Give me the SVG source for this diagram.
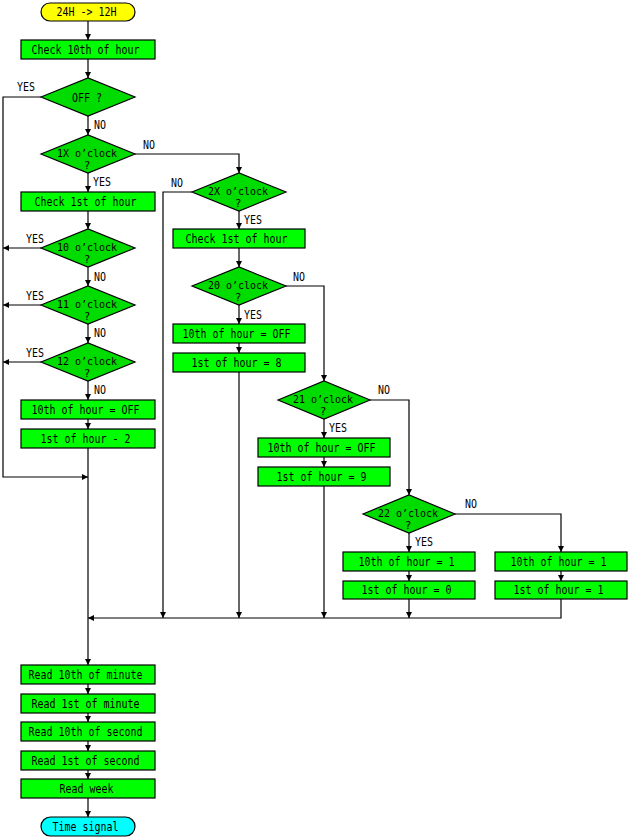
<svg xmlns="http://www.w3.org/2000/svg" width="629" height="838" viewBox="0 0 629 838">
<defs>
<marker id="ah" markerUnits="userSpaceOnUse" markerWidth="6" markerHeight="6" refX="6" refY="3" orient="auto">
<path d="M0,0 L6,3 L0,6 z" fill="#000"/>
</marker>
<style>
.bx{fill:#00FF00;stroke:#000;stroke-width:1.2}
.dm{fill:#00DC00;stroke:#000;stroke-width:1.2}
.ty{fill:#FFFF00;stroke:#000;stroke-width:1.2}
.tc{fill:#00FFFF;stroke:#000;stroke-width:1.2}
.ln{fill:none;stroke:#000;stroke-width:1.2}
.ar{fill:none;stroke:#000;stroke-width:1.2;marker-end:url(#ah)}
text{font-family:"DejaVu Sans Mono","Liberation Mono",monospace;font-size:12px;fill:#000}
.c{text-anchor:middle}
.d{font-size:11px}
</style>
</defs>
<rect width="629" height="838" fill="#fff"/>

<g id="connectors">
<path class="ar" d="M88,21 V40"/>
<path class="ar" d="M88,59 V78"/>
<path class="ar" d="M88,116 V135"/>
<path class="ar" d="M88,173 V192"/>
<path class="ar" d="M88,211 V229"/>
<path class="ar" d="M88,267 V286"/>
<path class="ar" d="M88,324 V343"/>
<path class="ar" d="M88,381 V400"/>
<path class="ar" d="M88,419 V429"/>
<path class="ar" d="M88,448 V665"/>
<path class="ar" d="M41,97 H3 V477 H88"/>
<path class="ar" d="M41,248 H3"/>
<path class="ar" d="M41,305 H3"/>
<path class="ar" d="M41,362 H3"/>
<path class="ar" d="M135,154 H239 V173"/>
<path class="ar" d="M192,192 H163 V618"/>
<path class="ar" d="M239,211 V229"/>
<path class="ar" d="M239,248 V267"/>
<path class="ar" d="M286,286 H324 V381"/>
<path class="ar" d="M239,305 V324"/>
<path class="ar" d="M239,343 V353"/>
<path class="ar" d="M239,372 V618"/>
<path class="ar" d="M370,400 H409 V495"/>
<path class="ar" d="M324,419 V438"/>
<path class="ar" d="M324,457 V467"/>
<path class="ar" d="M324,486 V618"/>
<path class="ar" d="M455,514 H561 V552"/>
<path class="ar" d="M409,533 V552"/>
<path class="ar" d="M409,571 V581"/>
<path class="ar" d="M409,599 V618"/>
<path class="ar" d="M561,571 V581"/>
<path class="ar" d="M561,599 V618 H88"/>
<path class="ar" d="M88,684 V694"/>
<path class="ar" d="M88,713 V722"/>
<path class="ar" d="M88,741 V751"/>
<path class="ar" d="M88,770 V779"/>
<path class="ar" d="M88,798 V817"/>
<text x="17" y="91" textLength="18" lengthAdjust="spacingAndGlyphs">YES</text>
<text x="94" y="129" textLength="12" lengthAdjust="spacingAndGlyphs">NO</text>
<text x="143" y="148.5" textLength="12" lengthAdjust="spacingAndGlyphs">NO</text>
<text x="93" y="186" textLength="18" lengthAdjust="spacingAndGlyphs">YES</text>
<text x="171" y="186.5" textLength="12" lengthAdjust="spacingAndGlyphs">NO</text>
<text x="244" y="224" textLength="18" lengthAdjust="spacingAndGlyphs">YES</text>
<text x="26" y="242.5" textLength="18" lengthAdjust="spacingAndGlyphs">YES</text>
<text x="94" y="281" textLength="12" lengthAdjust="spacingAndGlyphs">NO</text>
<text x="26" y="300" textLength="18" lengthAdjust="spacingAndGlyphs">YES</text>
<text x="94" y="337" textLength="12" lengthAdjust="spacingAndGlyphs">NO</text>
<text x="26" y="356.5" textLength="18" lengthAdjust="spacingAndGlyphs">YES</text>
<text x="94" y="394" textLength="12" lengthAdjust="spacingAndGlyphs">NO</text>
<text x="293" y="281" textLength="12" lengthAdjust="spacingAndGlyphs">NO</text>
<text x="244" y="318.5" textLength="18" lengthAdjust="spacingAndGlyphs">YES</text>
<text x="378" y="393.5" textLength="12" lengthAdjust="spacingAndGlyphs">NO</text>
<text x="329" y="431.5" textLength="18" lengthAdjust="spacingAndGlyphs">YES</text>
<text x="465" y="508" textLength="12" lengthAdjust="spacingAndGlyphs">NO</text>
<text x="415" y="546" textLength="18" lengthAdjust="spacingAndGlyphs">YES</text>
</g>

<g id="start">
<rect class="ty" x="41" y="3" width="94" height="18" rx="9"/>
<text class="c" x="86.5" y="16" textLength="60" lengthAdjust="spacingAndGlyphs">24H -&gt; 12H</text>
</g>
<g id="check10th">
<rect class="bx" x="21" y="40" width="134" height="19"/>
<text class="c" x="85.5" y="53.5" textLength="108" lengthAdjust="spacingAndGlyphs">Check 10th of hour</text>
</g>
<g id="offq">
<polygon class="dm" points="41,97 88,78 135,97 88,116"/>
<text class="c" x="87" y="101.5" textLength="30" lengthAdjust="spacingAndGlyphs">OFF ?</text>
</g>
<g id="q1x">
<polygon class="dm" points="41,154 88,135 135,154 88,173"/>
<text class="c d" x="87" y="156.5" textLength="60" lengthAdjust="spacingAndGlyphs">1X o’clock</text>
<text class="c d" x="87" y="168.5">?</text>
</g>
<g id="check1st">
<rect class="bx" x="21" y="192" width="134" height="19"/>
<text class="c" x="85.5" y="205.5" textLength="102" lengthAdjust="spacingAndGlyphs">Check 1st of hour</text>
</g>
<g id="q10">
<polygon class="dm" points="41,248 88,229 135,248 88,267"/>
<text class="c d" x="87" y="250.5" textLength="60" lengthAdjust="spacingAndGlyphs">10 o’clock</text>
<text class="c d" x="87" y="262.5">?</text>
</g>
<g id="q11">
<polygon class="dm" points="41,305 88,286 135,305 88,324"/>
<text class="c d" x="87" y="307.5" textLength="60" lengthAdjust="spacingAndGlyphs">11 o’clock</text>
<text class="c d" x="87" y="319.5">?</text>
</g>
<g id="q12">
<polygon class="dm" points="41,362 88,343 135,362 88,381"/>
<text class="c d" x="87" y="364.5" textLength="60" lengthAdjust="spacingAndGlyphs">12 o’clock</text>
<text class="c d" x="87" y="376.5">?</text>
</g>
<g id="l10off">
<rect class="bx" x="21" y="400" width="134" height="19"/>
<text class="c" x="85.5" y="413.5" textLength="108" lengthAdjust="spacingAndGlyphs">10th of hour = OFF</text>
</g>
<g id="l1minus2">
<rect class="bx" x="21" y="429" width="134" height="19"/>
<text class="c" x="85.5" y="442.5" textLength="90" lengthAdjust="spacingAndGlyphs">1st of hour - 2</text>
</g>
<g id="q2x">
<polygon class="dm" points="192,192 239,173 286,192 239,211"/>
<text class="c d" x="238" y="194.5" textLength="60" lengthAdjust="spacingAndGlyphs">2X o’clock</text>
<text class="c d" x="238" y="206.5">?</text>
</g>
<g id="check1st2">
<rect class="bx" x="173" y="229" width="132" height="19"/>
<text class="c" x="236.5" y="242.5" textLength="102" lengthAdjust="spacingAndGlyphs">Check 1st of hour</text>
</g>
<g id="q20">
<polygon class="dm" points="192,286 239,267 286,286 239,305"/>
<text class="c d" x="238" y="288.5" textLength="60" lengthAdjust="spacingAndGlyphs">20 o’clock</text>
<text class="c d" x="238" y="300.5">?</text>
</g>
<g id="m10off">
<rect class="bx" x="173" y="324" width="132" height="19"/>
<text class="c" x="236.5" y="337.5" textLength="108" lengthAdjust="spacingAndGlyphs">10th of hour = OFF</text>
</g>
<g id="m1eq8">
<rect class="bx" x="173" y="353" width="132" height="19"/>
<text class="c" x="236.5" y="366.5" textLength="90" lengthAdjust="spacingAndGlyphs">1st of hour = 8</text>
</g>
<g id="q21">
<polygon class="dm" points="278,400 324,381 370,400 324,419"/>
<text class="c d" x="323" y="402.5" textLength="60" lengthAdjust="spacingAndGlyphs">21 o’clock</text>
<text class="c d" x="323" y="414.5">?</text>
</g>
<g id="n10off">
<rect class="bx" x="258" y="438" width="132" height="19"/>
<text class="c" x="321.5" y="451.5" textLength="108" lengthAdjust="spacingAndGlyphs">10th of hour = OFF</text>
</g>
<g id="n1eq9">
<rect class="bx" x="258" y="467" width="132" height="19"/>
<text class="c" x="321.5" y="480.5" textLength="90" lengthAdjust="spacingAndGlyphs">1st of hour = 9</text>
</g>
<g id="q22">
<polygon class="dm" points="363,514 409,495 455,514 409,533"/>
<text class="c d" x="408" y="516.5" textLength="60" lengthAdjust="spacingAndGlyphs">22 o’clock</text>
<text class="c d" x="408" y="528.5">?</text>
</g>
<g id="p10eq1">
<rect class="bx" x="343" y="552" width="132" height="19"/>
<text class="c" x="406.5" y="565.5" textLength="96" lengthAdjust="spacingAndGlyphs">10th of hour = 1</text>
</g>
<g id="p1eq0">
<rect class="bx" x="343" y="581" width="132" height="18"/>
<text class="c" x="406.5" y="594" textLength="90" lengthAdjust="spacingAndGlyphs">1st of hour = 0</text>
</g>
<g id="r10eq1">
<rect class="bx" x="495" y="552" width="132" height="19"/>
<text class="c" x="558.5" y="565.5" textLength="96" lengthAdjust="spacingAndGlyphs">10th of hour = 1</text>
</g>
<g id="r1eq1">
<rect class="bx" x="495" y="581" width="132" height="18"/>
<text class="c" x="558.5" y="594" textLength="90" lengthAdjust="spacingAndGlyphs">1st of hour = 1</text>
</g>
<g id="read10min">
<rect class="bx" x="21" y="665" width="134" height="19"/>
<text class="c" x="85.5" y="678.5" textLength="114" lengthAdjust="spacingAndGlyphs">Read 10th of minute</text>
</g>
<g id="read1min">
<rect class="bx" x="21" y="694" width="134" height="19"/>
<text class="c" x="85.5" y="707.5" textLength="108" lengthAdjust="spacingAndGlyphs">Read 1st of minute</text>
</g>
<g id="read10sec">
<rect class="bx" x="21" y="722" width="134" height="19"/>
<text class="c" x="85.5" y="735.5" textLength="114" lengthAdjust="spacingAndGlyphs">Read 10th of second</text>
</g>
<g id="read1sec">
<rect class="bx" x="21" y="751" width="134" height="19"/>
<text class="c" x="85.5" y="764.5" textLength="108" lengthAdjust="spacingAndGlyphs">Read 1st of second</text>
</g>
<g id="readweek">
<rect class="bx" x="21" y="779" width="134" height="19"/>
<text class="c" x="86.5" y="792.5" textLength="54" lengthAdjust="spacingAndGlyphs">Read week</text>
</g>
<g id="end">
<rect class="tc" x="41" y="817" width="94" height="19" rx="9.5"/>
<text class="c" x="85.5" y="830.5" textLength="66" lengthAdjust="spacingAndGlyphs">Time signal</text>
</g>
</svg>
